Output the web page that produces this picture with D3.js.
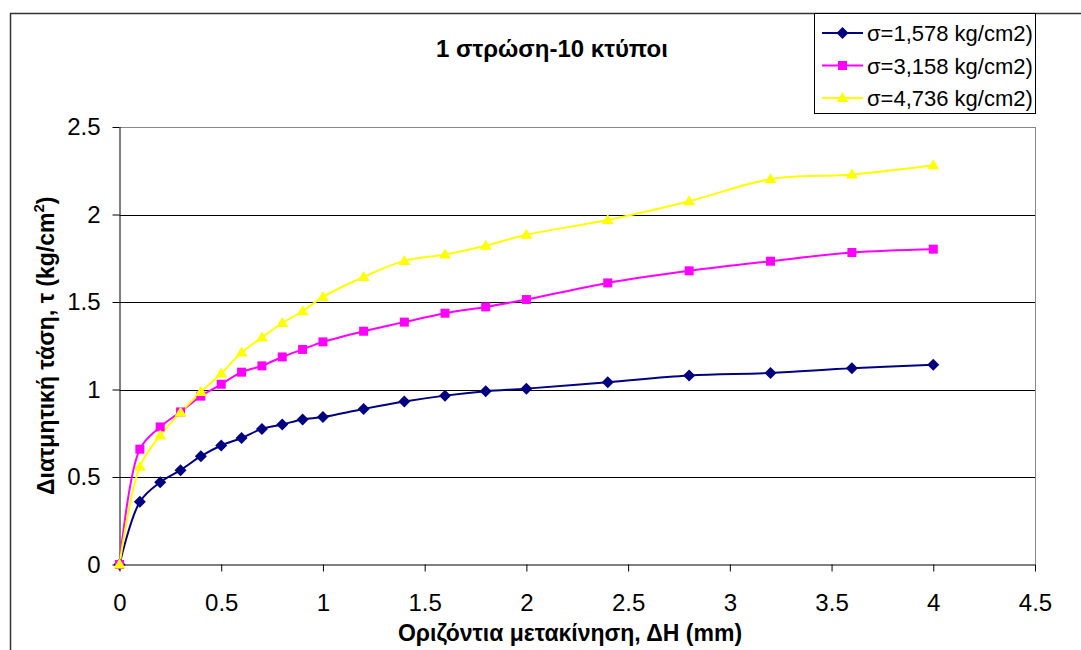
<!DOCTYPE html>
<html><head><meta charset="utf-8">
<script src="https://cdn.jsdelivr.net/npm/d3@7"></script>
<style>
html,body{margin:0;padding:0;background:#fff;}
text{font-family:"Liberation Sans",Arial,sans-serif;}
</style></head>
<body>
<svg id="chart" width="1081" height="650"></svg>
<script>
const title = "1 στρώση-10 κτύποι";
const xLabel = "Οριζόντια μετακίνηση, ΔΗ (mm)";
const seriesNames = ["σ=1,578 kg/cm2)", "σ=3,158 kg/cm2)", "σ=4,736 kg/cm2)"];
const xValues = [0, 0.1, 0.2, 0.3, 0.4, 0.5, 0.6, 0.7, 0.8, 0.9, 1.0, 1.2, 1.4, 1.6, 1.8, 2.0, 2.4, 2.8, 3.2, 3.6, 4.0];
const blueValues    = [0, 0.358, 0.47, 0.539, 0.619, 0.68, 0.723, 0.775, 0.80, 0.829, 0.843, 0.889, 0.931, 0.965, 0.99, 1.005, 1.042, 1.08, 1.095, 1.122, 1.141];
const magentaValues = [0, 0.659, 0.786, 0.872, 0.962, 1.03, 1.099, 1.135, 1.186, 1.229, 1.272, 1.333, 1.385, 1.436, 1.472, 1.514, 1.609, 1.678, 1.733, 1.783, 1.802];
const yellowValues  = [0, 0.558, 0.737, 0.869, 0.986, 1.091, 1.211, 1.297, 1.38, 1.447, 1.529, 1.643, 1.735, 1.771, 1.821, 1.884, 1.969, 2.076, 2.202, 2.229, 2.282];
const xTicks = [0, 0.5, 1, 1.5, 2, 2.5, 3, 3.5, 4, 4.5];
const yTicks = [0, 0.5, 1, 1.5, 2, 2.5];

const colors = ["#000080", "#FF00FF", "#FFFF00"];
const allSeries = [blueValues, magentaValues, yellowValues];

// marker shapes
const diamond = { draw(ctx, size) { const r = 6; ctx.moveTo(0, -r); ctx.lineTo(r, 0); ctx.lineTo(0, r); ctx.lineTo(-r, 0); ctx.closePath(); } };
const square = { draw(ctx, size) { const r = 4.5; ctx.rect(-r, -r, 2 * r, 2 * r); } };
const triangle = { draw(ctx, size) { const w = 6, h = 10; ctx.moveTo(0, -h * 0.6); ctx.lineTo(w, h * 0.4); ctx.lineTo(-w, h * 0.4); ctx.closePath(); } };
const symbols = [diamond, square, triangle];

const svg = d3.select("#chart");
const L = 119.5, R = 1035, T = 127, B = 564.5;
const x = d3.scaleLinear().domain([0, 4.5]).range([L, R]);
const y = d3.scaleLinear().domain([0, 2.5]).range([B, T]);

// outer frame
svg.append("rect").attr("x", 10.5).attr("y", 13.5).attr("width", 1200).attr("height", 800)
  .attr("fill", "#fff").attr("stroke", "#333").attr("stroke-width", 1.5);

// gridlines
svg.append("g").selectAll("line").data(yTicks.filter(d => d > 0)).join("line")
  .attr("x1", L).attr("x2", R)
  .attr("y1", d => Math.round(y(d)) + 0.5).attr("y2", d => Math.round(y(d)) + 0.5)
  .attr("stroke", d => d === 2.5 ? "#888" : "#000").attr("stroke-width", 1);
// right border of plot
svg.append("line").attr("x1", R + 0.5).attr("x2", R + 0.5).attr("y1", T).attr("y2", B)
  .attr("stroke", "#888");

// axes
const yAxis = d3.axisLeft(y).tickValues(yTicks).tickFormat(d3.format("")).tickSize(7).tickPadding(12);
const gy = svg.append("g").attr("transform", `translate(${L},0)`).call(yAxis);
const xAxis = d3.axisBottom(x).tickValues(xTicks).tickFormat(d3.format("")).tickSize(7).tickPadding(22);
const gx = svg.append("g").attr("transform", `translate(0,${B})`).call(xAxis);
[gx, gy].forEach(g => {
  g.select(".domain").attr("stroke", "#000");
  g.selectAll(".tick line").attr("stroke", "#000");
  g.selectAll("text").attr("font-size", 24).attr("fill", "#000")
    .attr("font-family", "'Liberation Sans', Arial, sans-serif");
});
gx.select(".domain").attr("d", `M${L},0.5H${R}`);
gy.select(".domain").attr("d", `M0.5,${T}V${B}`);

// series lines
const line = d3.line().x((d, i) => x(xValues[i])).y(d => y(d)).curve(d3.curveCatmullRom.alpha(0.5));
allSeries.forEach((vals, s) => {
  svg.append("path").datum(vals).attr("d", line).attr("fill", "none")
    .attr("stroke", colors[s]).attr("stroke-width", 2);
});
allSeries.forEach((vals, s) => {
  svg.append("g").selectAll("path").data(vals).join("path")
    .attr("transform", (d, i) => `translate(${x(xValues[i])},${y(d)})`)
    .attr("d", d3.symbol().type(symbols[s]))
    .attr("fill", colors[s]);
});

// title
svg.append("text").attr("x", 552).attr("y", 57).attr("text-anchor", "middle")
  .attr("font-size", 24).attr("font-weight", "bold").text(title);

// x label
svg.append("text").attr("x", 570).attr("y", 641).attr("text-anchor", "middle")
  .attr("font-size", 23).attr("font-weight", "bold").text(xLabel);

// y label
const yl = svg.append("text").attr("transform", `translate(54,${(T + B) / 2}) rotate(-90)`)
  .attr("text-anchor", "middle").attr("font-size", 23).attr("font-weight", "bold");
yl.append("tspan").text("Διατμητική τάση, τ (kg/cm");
yl.append("tspan").attr("dy", -10).attr("font-size", 15).text("2");
yl.append("tspan").attr("dy", 10).text(")");

// legend
const lg = svg.append("g");
lg.append("rect").attr("x", 814.5).attr("y", 13.5).attr("width", 221).attr("height", 100)
  .attr("fill", "#fff").attr("stroke", "#000").attr("stroke-width", 1);
seriesNames.forEach((name, i) => {
  const cy = 33 + i * 32.5;
  lg.append("line").attr("x1", 822).attr("x2", 863).attr("y1", cy).attr("y2", cy)
    .attr("stroke", colors[i]).attr("stroke-width", 2);
  lg.append("path").attr("transform", `translate(842.5,${cy})`)
    .attr("d", d3.symbol().type(symbols[i])).attr("fill", colors[i]);
  lg.append("text").attr("x", 867).attr("y", cy + 8).attr("font-size", 22).text(name);
});
</script>
</body></html>
